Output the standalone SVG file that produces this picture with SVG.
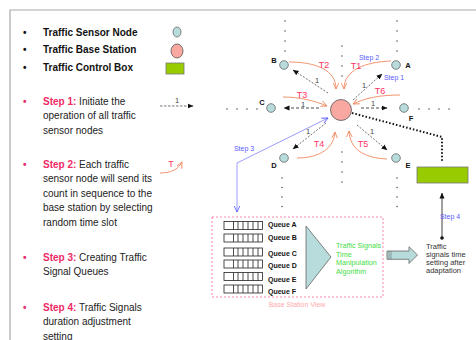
<svg xmlns="http://www.w3.org/2000/svg" width="476" height="340" viewBox="0 0 476 340">
<defs>
<style>
text{font-family:"Liberation Sans",Arial,sans-serif}
.b{font-size:10px;fill:#222}
.bb{font-size:10px;font-weight:bold;fill:#111}
.sp{font-size:10px;font-weight:bold;fill:#ee2a66}
.one{font-size:7.5px;fill:#444;text-anchor:middle}
.lbl{font-size:7.5px;font-weight:bold;fill:#111;text-anchor:middle}
.blue{font-size:7px;fill:#5a5aff;text-anchor:middle}
.t{font-size:9px;fill:#ff3366;text-anchor:middle}
.q{font-size:7px;font-weight:bold;fill:#111}
.g{font-size:7.2px;fill:#44dd44}
.sn{fill:#b8dcdc;stroke:#666;stroke-width:0.8}
.bs{fill:#f8a8a0;stroke:#555;stroke-width:0.8}
.cb{fill:#99cc00;stroke:#777;stroke-width:0.8}
.dash{fill:none;stroke:#333;stroke-width:0.7;stroke-dasharray:2 1.5}
.dashg{fill:none;stroke:#888;stroke-width:1.3;stroke-dasharray:3 2}
.tc{fill:none;stroke:#f08860;stroke-width:0.9}
.dot{fill:#333}
</style>
<marker id="ah" viewBox="0 0 6 6" refX="5.5" refY="3" markerWidth="6" markerHeight="6" markerUnits="userSpaceOnUse" orient="auto"><path d="M0,0.5 L6,3 L0,5.5 Z" fill="#111"/></marker>
<marker id="ao" viewBox="0 0 8 8" refX="7" refY="4" markerWidth="7" markerHeight="7" markerUnits="userSpaceOnUse" orient="auto"><path d="M0,0.8 L7,4 L0,7.2" fill="none" stroke="#f08860" stroke-width="1"/></marker>
<marker id="ab" viewBox="0 0 8 8" refX="7" refY="4" markerWidth="7" markerHeight="7" markerUnits="userSpaceOnUse" orient="auto-start-reverse"><path d="M0,0.8 L7,4 L0,7.2" fill="none" stroke="#5a5aff" stroke-width="1"/></marker>
</defs>
<rect width="476" height="340" fill="#fff"/>
<path d="M10,340 L10,10 L476,10" fill="none" stroke="#a8a8a8" stroke-width="1.2"/>

<g id="legend">
<text x="23" y="35.5" class="bb">•</text>
<text x="43" y="35.5" class="bb">Traffic Sensor Node</text>
<ellipse cx="177" cy="32" rx="4" ry="5" class="sn"/>
<text x="23" y="52.5" class="bb">•</text>
<text x="43" y="52.5" class="bb">Traffic Base Station</text>
<ellipse cx="177" cy="51" rx="6" ry="7" class="bs"/>
<text x="23" y="70.5" class="bb">•</text>
<text x="43" y="70.5" class="bb">Traffic Control Box</text>
<rect x="166" y="63" width="18" height="11" class="cb"/>
</g>

<g id="steps">
<text x="23" y="104.5" class="sp">•</text>
<text x="43" y="104.5" class="b"><tspan class="sp">Step 1:</tspan> Initiate the</text>
<text x="43" y="119" class="b">operation of all traffic</text>
<text x="43" y="133.5" class="b">sensor nodes</text>
<text x="23" y="167.5" class="sp">•</text>
<text x="43" y="167.5" class="b"><tspan class="sp">Step 2:</tspan> Each traffic</text>
<text x="43" y="182" class="b">sensor node will send its</text>
<text x="43" y="196.5" class="b">count in sequence to the</text>
<text x="43" y="211" class="b">base station by selecting</text>
<text x="43" y="225.5" class="b">random time slot</text>
<text x="23" y="260.5" class="sp">•</text>
<text x="43" y="260.5" class="b"><tspan class="sp">Step 3:</tspan> Creating Traffic</text>
<text x="43" y="275" class="b">Signal Queues</text>
<text x="23" y="310.5" class="sp">•</text>
<text x="43" y="310.5" class="b"><tspan class="sp">Step 4:</tspan> Traffic Signals</text>
<text x="43" y="325" class="b">duration adjustment</text>
<text x="43" y="339.5" class="b">setting</text>
</g>

<g id="legend-arrows">
<line x1="160" y1="106" x2="193" y2="106" fill="none" stroke="#666" stroke-width="0.9" stroke-dasharray="2.5 1.5" marker-end="url(#ah)"/>
<text x="177" y="103" class="one">1</text>
<path d="M160,173 C170,173 178,170 182,162" class="tc" marker-end="url(#ao)"/>
<text x="171" y="167" class="t">T</text>
</g>

<g id="dots">
<circle cx="285" cy="21" r="0.7" class="dot"/><circle cx="285" cy="31" r="0.7" class="dot"/><circle cx="285" cy="41" r="0.7" class="dot"/><circle cx="285" cy="51" r="0.7" class="dot"/>
<circle cx="397" cy="21" r="0.7" class="dot"/><circle cx="397" cy="31" r="0.7" class="dot"/><circle cx="397" cy="41" r="0.7" class="dot"/><circle cx="397" cy="51" r="0.7" class="dot"/>
<circle cx="342" cy="46" r="0.7" class="dot"/><circle cx="342" cy="56" r="0.7" class="dot"/><circle cx="342" cy="66" r="0.7" class="dot"/><circle cx="342" cy="76" r="0.7" class="dot"/>
<circle cx="227" cy="109" r="0.7" class="dot"/><circle cx="237" cy="109" r="0.7" class="dot"/><circle cx="247" cy="109" r="0.7" class="dot"/><circle cx="257" cy="109" r="0.7" class="dot"/>
<circle cx="419" cy="109" r="0.7" class="dot"/><circle cx="429" cy="109" r="0.7" class="dot"/><circle cx="439" cy="109" r="0.7" class="dot"/><circle cx="449" cy="109" r="0.7" class="dot"/>
<circle cx="282" cy="178" r="0.7" class="dot"/><circle cx="282" cy="187.5" r="0.7" class="dot"/><circle cx="282" cy="197" r="0.7" class="dot"/><circle cx="282" cy="206.5" r="0.7" class="dot"/>
<circle cx="342" cy="152" r="0.7" class="dot"/><circle cx="342" cy="162" r="0.7" class="dot"/><circle cx="342" cy="172" r="0.7" class="dot"/><circle cx="342" cy="182" r="0.7" class="dot"/>
<circle cx="397" cy="178" r="0.7" class="dot"/><circle cx="397" cy="187.5" r="0.7" class="dot"/><circle cx="397" cy="197" r="0.7" class="dot"/><circle cx="397" cy="206.5" r="0.7" class="dot"/>
</g>

<g id="connectors">
<line x1="353" y1="100" x2="382" y2="74" class="dash" marker-end="url(#ah)"/>
<line x1="328" y1="93" x2="293" y2="70" class="dash" marker-end="url(#ah)"/>
<line x1="319" y1="108" x2="284" y2="108" class="dashg" marker-end="url(#ah)"/>
<line x1="361" y1="108" x2="387" y2="108" class="dashg" marker-end="url(#ah)"/>
<line x1="326" y1="123" x2="293" y2="149" class="dash" marker-end="url(#ah)"/>
<line x1="357" y1="125" x2="387" y2="150" class="dash" marker-end="url(#ah)"/>
<text x="364" y="88" class="one">1</text>
<text x="317" y="83" class="one">1</text>
<text x="303" y="107" class="one">1</text>
<text x="373" y="105.5" class="one">1</text>
<text x="308" y="133.5" class="one">1</text>
<text x="372" y="133.5" class="one">1</text>
<path d="M289,62 C316,62 336,70 336,89" class="tc" marker-end="url(#ao)"/>
<path d="M391,61 C365,62 344,70 344,89" class="tc" marker-end="url(#ao)"/>
<path d="M283,97 C300,97 315,101 327,106" class="tc" marker-end="url(#ao)"/>
<path d="M400,95 C380,95 365,98 353,104" class="tc" marker-end="url(#ao)"/>
<path d="M297,158 C320,158 334,148 335,132" class="tc" marker-end="url(#ao)"/>
<path d="M387,159 C365,158 350,150 349,131" class="tc" marker-end="url(#ao)"/>
<text x="324" y="68" class="t">T2</text>
<text x="356" y="68.5" class="t">T1</text>
<text x="302" y="98" class="t">T3</text>
<text x="380" y="94" class="t">T6</text>
<text x="319" y="147" class="t">T4</text>
<text x="363" y="147" class="t">T5</text>
<text x="369" y="60" class="blue">Step 2</text>
<text x="394" y="80" class="blue">Step 1</text>
<polyline points="352,113 442,137 442,162" fill="none" stroke="#111" stroke-width="2" stroke-dasharray="1.5 2"/>
<polyline points="328,118 237,163 237,212" fill="none" stroke="#8080ff" stroke-width="0.8" marker-start="url(#ab)" marker-end="url(#ab)"/>
<text x="244" y="151" class="blue">Step 3</text>
<line x1="442" y1="238" x2="442" y2="193" stroke="#111" stroke-width="0.8" marker-end="url(#ah)"/>
<circle cx="442" cy="238" r="1.8" fill="#111"/>
<text x="450" y="219" class="blue">Step 4</text>
</g>

<g id="base-station"><circle cx="341" cy="110" r="10.5" class="bs"/></g>
<g id="node-A"><circle cx="396" cy="65" r="4.3" class="sn"/><text x="408" y="68" class="lbl">A</text></g>
<g id="node-B"><circle cx="284" cy="65" r="4.3" class="sn"/><text x="274" y="63" class="lbl">B</text></g>
<g id="node-C"><circle cx="271" cy="108" r="4.3" class="sn"/><text x="262" y="105" class="lbl">C</text></g>
<g id="node-D"><circle cx="284" cy="158" r="4.3" class="sn"/><text x="274" y="168" class="lbl">D</text></g>
<g id="node-E"><circle cx="396" cy="158" r="4.3" class="sn"/><text x="408" y="168" class="lbl">E</text></g>
<g id="node-F"><circle cx="404" cy="108" r="4.3" class="sn"/><text x="411" y="121" class="lbl">F</text></g>
<g id="control-box"><rect x="417" y="167" width="51" height="16" class="cb"/></g>

<g id="base-station-view">
<rect x="212" y="217" width="171" height="80" fill="none" stroke="#ff6699" stroke-width="0.8" stroke-dasharray="2 2"/>
<text x="297" y="306.5" text-anchor="middle" style="font-size:7px;fill:#ffaaaa">Base Station View</text>
<g id="queues" fill="none" stroke="#222" stroke-width="0.8">
<g id="q-a"><rect x="224" y="221.5" width="38.5" height="8"/><path d="M233.5,221.5v8M238,221.5v8M243,221.5v8M248,221.5v8M253,221.5v8M258,221.5v8"/></g>
<g id="q-b"><rect x="224" y="234" width="38.5" height="8"/><path d="M233.5,234v8M238,234v8M243,234v8M248,234v8M253,234v8M258,234v8"/></g>
<g id="q-c"><rect x="224" y="248" width="38.5" height="8"/><path d="M233.5,248v8M238,248v8M243,248v8M248,248v8M253,248v8M258,248v8"/></g>
<g id="q-d"><rect x="224" y="260" width="38.5" height="8"/><path d="M233.5,260v8M238,260v8M243,260v8M248,260v8M253,260v8M258,260v8"/></g>
<g id="q-e"><rect x="224" y="272.5" width="38.5" height="8"/><path d="M233.5,272.5v8M238,272.5v8M243,272.5v8M248,272.5v8M253,272.5v8M258,272.5v8"/></g>
<g id="q-f"><rect x="224" y="285" width="38.5" height="8"/><path d="M233.5,285v8M238,285v8M243,285v8M248,285v8M253,285v8M258,285v8"/></g>
</g>
<text x="268" y="227" class="q">Queue A</text>
<text x="268" y="240" class="q">Queue B</text>
<text x="268" y="256" class="q">Queue C</text>
<text x="268" y="268" class="q">Queue D</text>
<text x="268" y="282" class="q">Queue E</text>
<text x="268" y="293.5" class="q">Queue F</text>
<g id="algorithm">
<polygon points="306,226 331,257 306,289" class="sn"/>
<text x="336" y="248" class="g">Traffic Signals</text>
<text x="336" y="256.5" class="g">Time</text>
<text x="336" y="265" class="g">Manipulation</text>
<text x="336" y="273.5" class="g">Algorithm</text>
</g>
</g>

<g id="output-arrow">
<path d="M387,251 L409,251 L409,246.7 L417.5,255 L409,263.5 L409,259.3 L387,259.3 Z" class="sn"/>
<path d="M389,251v8.3M391,251v8.3" stroke="#666" stroke-width="0.6"/>
</g>
<g id="output-text" style="font-size:7.5px;fill:#333">
<text x="426" y="248.5">Traffic</text>
<text x="426" y="256.5">signals time</text>
<text x="426" y="264.5">setting after</text>
<text x="426" y="272.5">adaptation</text>
</g>
</svg>
